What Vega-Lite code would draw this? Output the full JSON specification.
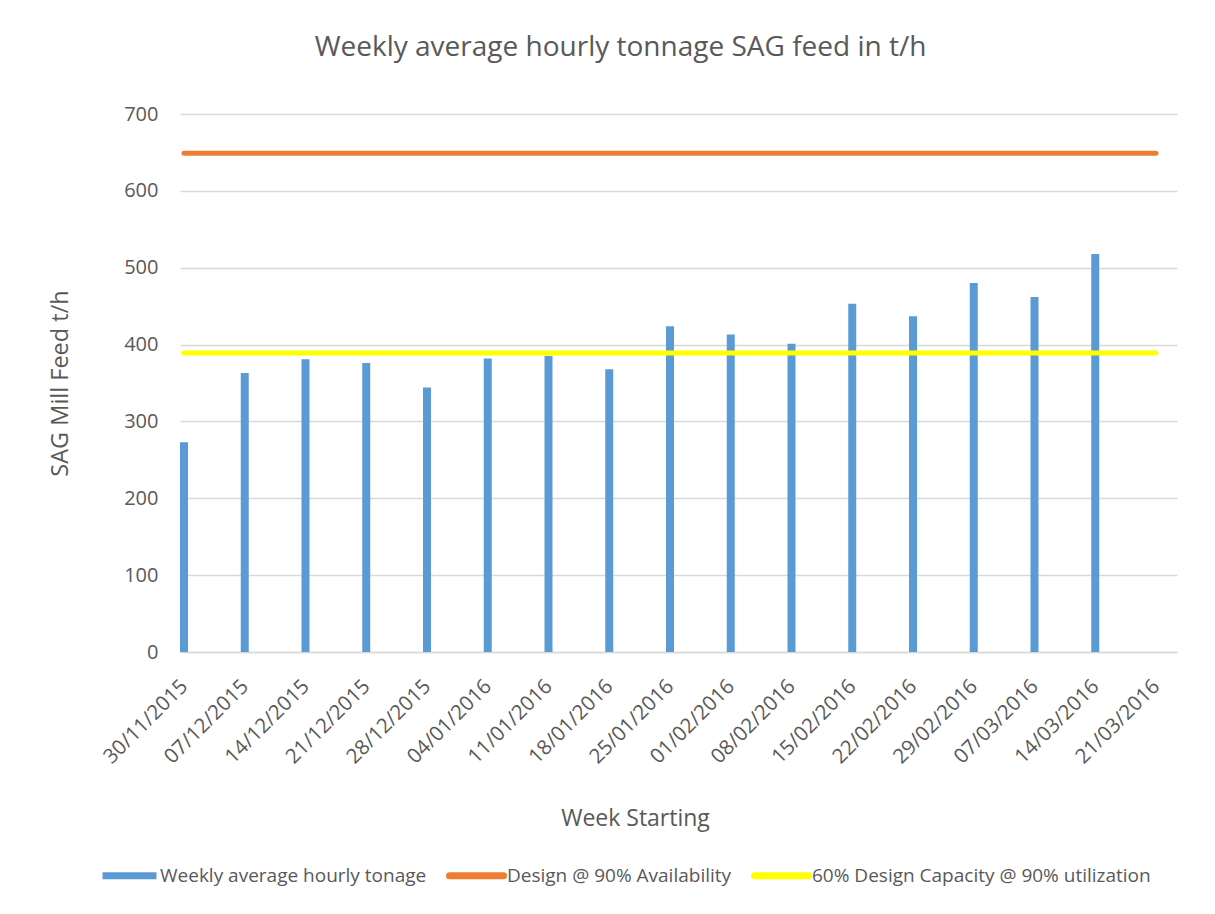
{
  "$schema": "https://vega.github.io/schema/vega-lite/v6.json",
  "width": 997,
  "height": 538,
  "autosize": "none",
  "padding": {"left": 180, "top": 114, "right": 38, "bottom": 262},
  "background": "white",
  "config": {
    "font": "Open Sans",
    "view": {"stroke": null},
    "axis": {"labelColor": "#595959", "titleColor": "#595959", "titleFontWeight": "normal", "labelFont": "Open Sans", "titleFont": "Open Sans"},
    "legend": {"labelColor": "#595959", "labelFont": "Open Sans"}
  },
  "title": {
    "text": "Weekly average hourly tonnage SAG feed in t/h",
    "fontSize": 28,
    "fontWeight": "normal",
    "color": "#595959",
    "font": "Open Sans",
    "anchor": "middle",
    "dx": -58,
    "offset": 42
  },
  "datasets": {
    "bars": [
      {"week": "30/11/2015", "tph": 273, "series": "Weekly average hourly tonage"},
      {"week": "07/12/2015", "tph": 363, "series": "Weekly average hourly tonage"},
      {"week": "14/12/2015", "tph": 381, "series": "Weekly average hourly tonage"},
      {"week": "21/12/2015", "tph": 376, "series": "Weekly average hourly tonage"},
      {"week": "28/12/2015", "tph": 344, "series": "Weekly average hourly tonage"},
      {"week": "04/01/2016", "tph": 382, "series": "Weekly average hourly tonage"},
      {"week": "11/01/2016", "tph": 385, "series": "Weekly average hourly tonage"},
      {"week": "18/01/2016", "tph": 368, "series": "Weekly average hourly tonage"},
      {"week": "25/01/2016", "tph": 424, "series": "Weekly average hourly tonage"},
      {"week": "01/02/2016", "tph": 413, "series": "Weekly average hourly tonage"},
      {"week": "08/02/2016", "tph": 401, "series": "Weekly average hourly tonage"},
      {"week": "15/02/2016", "tph": 453, "series": "Weekly average hourly tonage"},
      {"week": "22/02/2016", "tph": 437, "series": "Weekly average hourly tonage"},
      {"week": "29/02/2016", "tph": 480, "series": "Weekly average hourly tonage"},
      {"week": "07/03/2016", "tph": 462, "series": "Weekly average hourly tonage"},
      {"week": "14/03/2016", "tph": 518, "series": "Weekly average hourly tonage"}
    ],
    "lines": [
      {"week": "30/11/2015", "tph": 649, "series": "Design @ 90% Availability"},
      {"week": "21/03/2016", "tph": 649, "series": "Design @ 90% Availability"},
      {"week": "30/11/2015", "tph": 389, "series": "60% Design Capacity @ 90% utilization"},
      {"week": "21/03/2016", "tph": 389, "series": "60% Design Capacity @ 90% utilization"}
    ]
  },
  "encoding": {
    "x": {
      "field": "week",
      "type": "ordinal",
      "sort": null,
      "scale": {
        "type": "point",
        "domain": ["30/11/2015", "07/12/2015", "14/12/2015", "21/12/2015", "28/12/2015", "04/01/2016", "11/01/2016", "18/01/2016", "25/01/2016", "01/02/2016", "08/02/2016", "15/02/2016", "22/02/2016", "29/02/2016", "07/03/2016", "14/03/2016", "21/03/2016"],
        "padding": 0.2058,
        "align": 0.16
      },
      "axis": {
        "title": "Week Starting",
        "titleFontSize": 23,
        "titlePadding": 40,
        "titleX": 455,
        "labelFontSize": 20.5,
        "labelAngle": -45,
        "labelAlign": "right",
        "labelBaseline": "middle",
        "labelPadding": 31,
        "ticks": false,
        "domainColor": "#D9D9D9",
        "domainWidth": 1.5,
        "grid": false
      }
    },
    "y": {
      "field": "tph",
      "type": "quantitative",
      "scale": {"domain": [0, 700], "nice": false, "zero": true},
      "axis": {
        "title": "SAG Mill Feed t/h",
        "titleFontSize": 23.5,
        "titlePadding": 51,
        "labelFontSize": 20,
        "labelPadding": 22,
        "values": [0, 100, 200, 300, 400, 500, 600, 700],
        "ticks": false,
        "domain": false,
        "grid": true,
        "gridColor": "#D9D9D9",
        "gridWidth": 1.5
      }
    },
    "color": {
      "field": "series",
      "type": "nominal",
      "scale": {
        "domain": ["Weekly average hourly tonage", "Design @ 90% Availability", "60% Design Capacity @ 90% utilization"],
        "range": ["#5B9BD5", "#ED7D31", "#FFFF00"]
      },
      "legend": {
        "title": null,
        "orient": "none",
        "legendX": -81,
        "legendY": 731,
        "direction": "horizontal",
        "labelFontSize": 19,
        "labelLimit": 600,
        "symbolType": "stroke",
        "symbolSize": 2916,
        "symbolStrokeWidth": 7,
        "labelOffset": 0,
        "columnPadding": 8,
        "encode": {
          "symbols": {
            "update": {
              "stroke": {"scale": "color", "field": "value"},
              "strokeCap": {"signal": "datum.value === 'Weekly average hourly tonage' ? 'butt' : 'round'"}
            }
          }
        }
      }
    }
  },
  "layer": [
    {
      "data": {"name": "bars"},
      "mark": {"type": "bar", "size": 8}
    },
    {
      "data": {"name": "lines"},
      "mark": {"type": "line", "strokeWidth": 5, "strokeCap": "round"},
      "encoding": {
        "detail": {"field": "series"}
      }
    }
  ]
}
